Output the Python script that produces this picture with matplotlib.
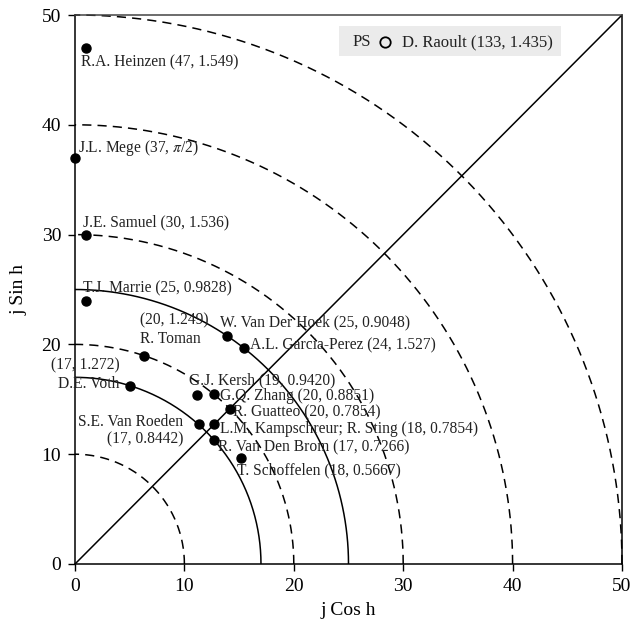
import numpy as np
import matplotlib
matplotlib.use("Agg")
import matplotlib.pyplot as plt
from matplotlib.patches import Rectangle

plt.rcParams['font.family'] = ['Liberation Serif', 'DejaVu Serif']
plt.rcParams['mathtext.fontset'] = 'stix'

# points: modulus j and angle h (radians)
j_vals = [47, 37, 30, 24, 20, 17, 25, 25, 19, 20, 20, 17, 18, 17, 18]
h_vals = [1.549, np.pi / 2, 1.536, 1.527, 1.249, 1.272, 0.9828, 0.9048,
          0.9420, 0.8851, 0.7854, 0.8442, 0.7854, 0.7266, 0.5667]

# labels written next to each point
labels = [
    "R.A. Heinzen (47, 1.549)",
    "J.L. Mege (37, $\\pi$/2)",
    "J.E. Samuel (30, 1.536)",
    "T.J. Marrie (25, 0.9828)",
    "(20, 1.249)\nR. Toman",
    "(17, 1.272)\nD.E. Voth",
    "W. Van Der Hoek (25, 0.9048)",
    "A.L. Garcia-Perez (24, 1.527)",
    "G.J. Kersh (19, 0.9420)",
    "G.Q. Zhang (20, 0.8851)",
    "R. Guatteo (20, 0.7854)",
    "S.E. Van Roeden\n(17, 0.8442)",
    "L.M. Kampschreur; R. Sting (18, 0.7854)",
    "R. Van Den Brom (17, 0.7266)",
    "T. Schoffelen (18, 0.5667)",
]

dashed_radii = [10, 20, 30, 40, 50]
solid_radii = [17, 25]
ticks = [0, 10, 20, 30, 40, 50]
legend_group = "PS"
legend_text = "D. Raoult (133, 1.435)"

# label offsets in pixels (dx, dy, ha, va)
offsets = [
    (-5, -14, 'left', 'center'),
    (3, 10, 'left', 'center'),
    (-3, 12, 'left', 'center'),
    (-3, 12, 'left', 'center'),
    (-4, 9, 'left', 'bottom'),
    (-10, -6, 'right', 'bottom'),
    (-7, 13, 'left', 'center'),
    (6, 3, 'left', 'center'),
    (-8, 15, 'left', 'center'),
    (6, -2, 'left', 'center'),
    (3, -4, 'left', 'center'),
    (-15, -6, 'right', 'center'),
    (6, -5, 'left', 'center'),
    (4, -7, 'left', 'center'),
    (-4, -12, 'left', 'center'),
]

fig = plt.figure(figsize=(6.31, 6.22), dpi=100)
ax = fig.add_axes([75 / 631, 1 - 564 / 622, 547 / 631, 549 / 622])

theta = np.linspace(0, np.pi / 2, 300)
for r in dashed_radii:
    ax.plot(r * np.cos(theta), r * np.sin(theta), color='black', lw=1.1,
            ls=(0, (6, 4)), clip_on=False)
for r in solid_radii:
    ax.plot(r * np.cos(theta), r * np.sin(theta), color='black', lw=1.1)
ax.plot([0, 50], [0, 50], color='black', lw=1.1)

j = np.array(j_vals)
h = np.array(h_vals)
xs = j * np.cos(h)
ys = j * np.sin(h)
ax.plot(xs, ys, 'o', color='black', ms=6.5, clip_on=False, zorder=5)

for x, y, lab, (dx, dy, ha, va) in zip(xs, ys, labels, offsets):
    ma = 'right' if ha == 'right' else 'left'
    ax.annotate(lab, (x, y), xytext=(dx, dy), textcoords='offset pixels',
                ha=ha, va=va, multialignment=ma, fontsize=11.2, color='#222222',
                linespacing=1.15)

ax.set_xlim(0, 50)
ax.set_ylim(0, 50)
ax.set_xticks(ticks)
ax.set_yticks(ticks)
ax.tick_params(direction='out', length=5, width=1, pad=5, labelsize=14)
for s in ax.spines.values():
    s.set_linewidth(1.1)
ax.spines['top'].set_color('#444444')
ax.set_xlabel("j Cos h", fontsize=14, labelpad=5)
ax.set_ylabel("j Sin h", fontsize=14, labelpad=10)

# legend box (grey panel, group name, hollow marker, entry)
ax.add_patch(Rectangle((0.4826, 0.9253), 0.4059, 0.0547, transform=ax.transAxes,
                       facecolor='#ebebeb', edgecolor='none', zorder=6))
ax.text(0.5082, 0.9435, legend_group, transform=ax.transAxes, fontsize=12,
        va='baseline', ha='left', color='#222222', zorder=7)
ax.plot([0.5667], [0.9514], 'o', transform=ax.transAxes, ms=7.5, mfc='none',
        mec='black', mew=1.3, zorder=7)
ax.text(0.5978, 0.9435, legend_text, transform=ax.transAxes, fontsize=12,
        va='baseline', ha='left', color='#222222', zorder=7)

fig.savefig("out.png", dpi=100)
